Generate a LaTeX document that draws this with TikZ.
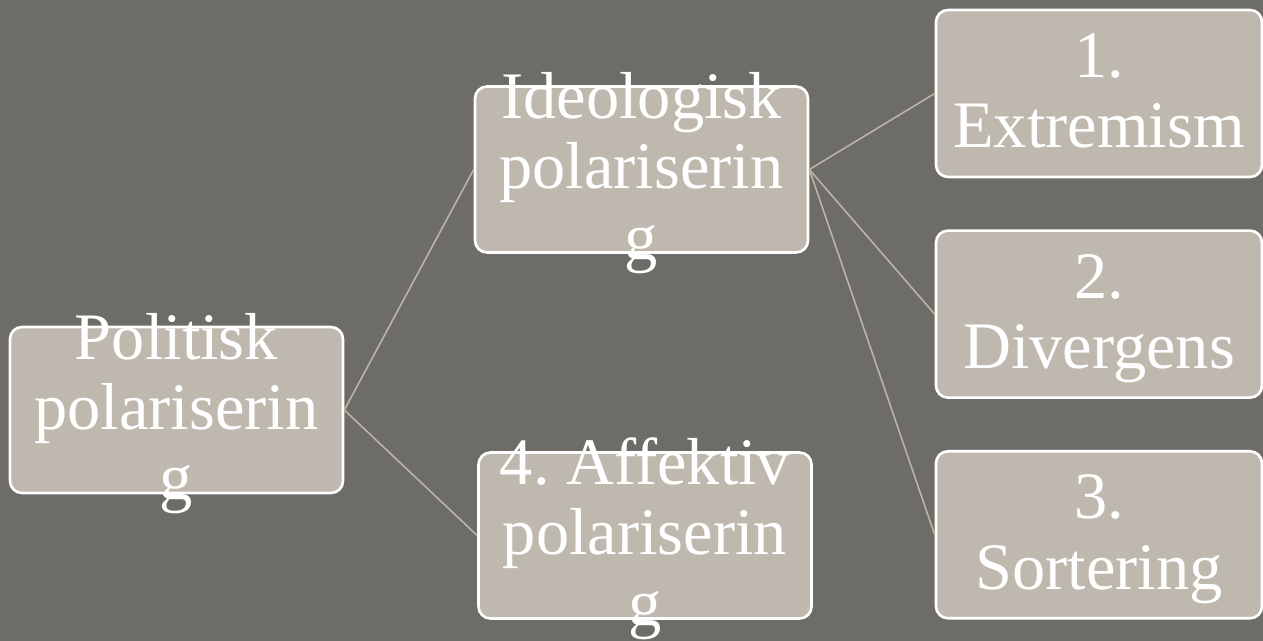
\documentclass[tikz,border=0pt]{standalone}
\usepackage{fontspec}
\setmainfont{Liberation Serif}
\usepackage{xcolor}
\usepackage{tikz}
\usetikzlibrary{positioning}

\definecolor{bggray}{RGB}{110,108,103}
\definecolor{boxfill}{RGB}{190,184,174}
\definecolor{linkgray}{RGB}{185,180,172}

\newcommand{\boxstrut}{\rule[-9pt]{0pt}{40pt}}

\begin{document}
\begin{tikzpicture}[box/.style={rectangle, rounded corners=0.24cm, draw=white, line width=1.5pt, fill=boxfill, minimum width=6.66cm, minimum height=3.32cm, inner sep=0pt}, sidebox/.style={box, minimum width=6.52cm, minimum height=3.34cm}, txt/.style={text=white, align=center, inner sep=0pt, font=\fontsize{37.8}{40}\selectfont}, link/.style={draw=linkgray, line width=0.9pt}, node distance=1.02cm]

      % Hintergrund
      \fill[bggray] (0,0) rectangle (25.26,-12.82);
      \useasboundingbox (0,0) rectangle (25.26,-12.82);

      % Kaestchen
      \node[box] (pol) at (3.53,-8.2) {};
      \node[box] (ideo) at (12.83,-3.39) {};
      \node[box] (aff) at (12.9,-10.71) {};
      \node[sidebox] (ext) at (21.98,-1.87) {};
      \node[sidebox, below=of ext] (div) {};
      \node[sidebox, below=of div] (sor) {};

      % Linien
      \draw[link] (pol.east) -- (ideo.west);
      \draw[link] (pol.east) -- (aff.west);
      \draw[link] (ideo.east) -- (ext.west);
      \draw[link] (ideo.east) -- (div.west);
      \draw[link] (ideo.east) -- (sor.west);

      % Texte
      \node[txt] (polt) at (pol) {\boxstrut Politisk\\\boxstrut polariserin\\\boxstrut g};
      \node[txt] (ideot) at (ideo) {\boxstrut Ideologisk\\\boxstrut polariserin\\\boxstrut g};
      \node[txt] (afft) at (aff) {\boxstrut 4.\ Affektiv\\\boxstrut polariserin\\\boxstrut g};
      \node[txt] (extt) at (ext) {\boxstrut 1.\\\boxstrut Extremism};
      \node[txt] (divt) at (div) {\boxstrut 2.\\\boxstrut Divergens};
      \node[txt] (sort) at (sor) {\boxstrut 3.\\\boxstrut Sortering};

      \end{tikzpicture}
\end{document}
